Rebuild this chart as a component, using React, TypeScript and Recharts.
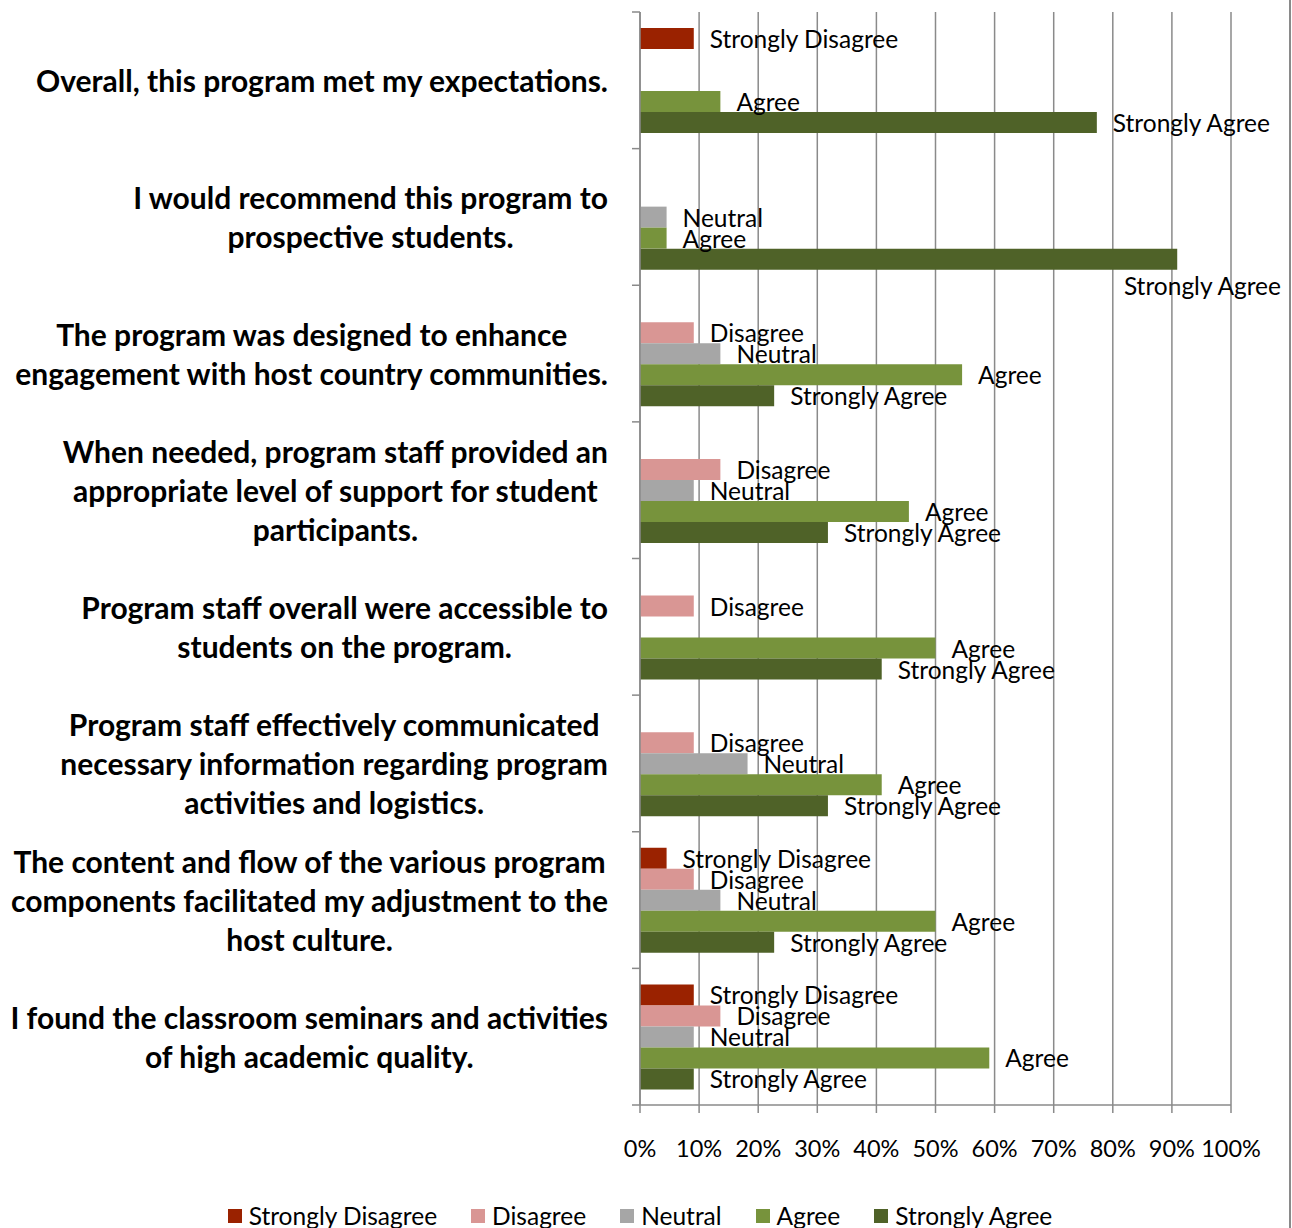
import React from 'react';
import { BarChart, Bar, XAxis, YAxis, CartesianGrid, LabelList, Legend } from 'recharts';

const categories: string[][] = [
  ['Overall, this program met my expectations.'],
  ['I would recommend this program to', 'prospective students.'],
  ['The program was designed to enhance', 'engagement with host country communities.'],
  ['When needed, program staff provided an', 'appropriate level of support for student', 'participants.'],
  ['Program staff overall were accessible to', 'students on the program.'],
  ['Program staff effectively communicated', 'necessary information regarding program', 'activities and logistics.'],
  ['The content and flow of the various program', 'components facilitated my adjustment to the', 'host culture.'],
  ['I found the classroom seminars and activities', 'of high academic quality.'],
];

const seriesNames = ['Strongly Disagree', 'Disagree', 'Neutral', 'Agree', 'Strongly Agree'];
const seriesKeys = ['sd', 'd', 'n', 'a', 'sa'];
const seriesColors = ['#9A2200', '#D99694', '#A6A6A6', '#77933C', '#4F6228'];

const stronglyDisagree = [9.1, 0, 0, 0, 0, 0, 4.5, 9.1];
const disagree = [0, 0, 9.1, 13.6, 9.1, 9.1, 9.1, 13.6];
const neutral = [0, 4.5, 13.6, 9.1, 0, 18.2, 13.6, 9.1];
const agree = [13.6, 4.5, 54.5, 45.5, 50.0, 40.9, 50.0, 59.1];
const stronglyAgree = [77.3, 90.9, 22.7, 31.8, 40.9, 31.8, 22.7, 9.1];

const xTicks = [0, 10, 20, 30, 40, 50, 60, 70, 80, 90, 100];

const data = categories.map((lines, i) => ({
  q: lines.join(' '),
  sd: stronglyDisagree[i],
  d: disagree[i],
  n: neutral[i],
  a: agree[i],
  sa: stronglyAgree[i],
}));

const FONT = 'Lato, "Open Sans", sans-serif';
const GRID = '#8a8a8a';
const W = 1292;
const H = 1228;
const MARGIN = { top: 12, right: 61, left: 0, bottom: 0 };
const Y_AXIS_W = 640;
const X_AXIS_H = 123;
const BAND = (H - MARGIN.top - MARGIN.bottom - X_AXIS_H) / categories.length;
const LABEL_FS = 24.5;
const TICK_FS = 23.5;
const CAT_FS = 30;

const CategoryTick = (props: any) => {
  const { y, payload, index } = props;
  const half = payload && typeof payload.offset === 'number' && payload.offset > 0 ? payload.offset : BAND / 2;
  const axisX = MARGIN.left + Y_AXIS_W;
  const lines = categories[index] || [String(payload?.value ?? '')];
  const isLast = index === categories.length - 1;
  return (
    <g>
      <line x1={axisX - 8} x2={axisX} y1={y - half} y2={y - half} stroke={GRID} strokeWidth={1.5} />
      {isLast && <line x1={axisX - 8} x2={axisX} y1={y + half} y2={y + half} stroke={GRID} strokeWidth={1.5} />}
      <foreignObject x={0} y={y - half} width={axisX - 32} height={half * 2}>
        <div
          style={{
            display: 'flex',
            alignItems: 'center',
            justifyContent: 'flex-end',
            height: '100%',
            width: '100%',
          }}
        >
          <div
            style={{
              textAlign: 'center',
              fontFamily: FONT,
              fontWeight: 700,
              fontSize: CAT_FS,
              lineHeight: '39px',
              color: '#000',
              whiteSpace: 'nowrap',
            }}
          >
            {lines.map((l, i) => (
              <div key={i}>{l}</div>
            ))}
          </div>
        </div>
      </foreignObject>
    </g>
  );
};

const makeLabel = (name: string) => (props: any) => {
  const { x, y, width, height, value } = props;
  if (!value) return null;
  const end = Number(x) + Number(width);
  const cy = Number(y) + Number(height) / 2;
  let tx = end + 16;
  let ty = cy + 0;
  let anchor: 'start' | 'end' = 'start';
  if (tx + name.length * 11.5 > W - 4) {
    tx = W - 11;
    ty = cy + 26;
    anchor = 'end';
  }
  return (
    <text
      x={tx}
      y={ty}
      textAnchor={anchor}
      dominantBaseline="central"
      fontSize={LABEL_FS}
      fontFamily={FONT}
      fill="#000"
    >
      {name}
    </text>
  );
};

const LegendContent = () => (
  <div
    style={{
      display: 'flex',
      justifyContent: 'center',
      alignItems: 'center',
      gap: 34,
      fontFamily: FONT,
      fontSize: LABEL_FS,
      lineHeight: '26px',
      color: '#000',
    }}
  >
    {seriesNames.map((n, i) => (
      <div key={n} style={{ display: 'flex', alignItems: 'center' }}>
        <span style={{ display: 'inline-block', width: 14, height: 14, background: seriesColors[i], marginRight: 7 }} />
        <span>{n}</span>
      </div>
    ))}
  </div>
);

export default function App() {
  return (
    <div style={{ position: 'absolute', left: 0, top: 0, width: W, height: H, overflow: 'hidden', background: '#fff' }}>
      <div style={{ position: 'absolute', left: 1289, top: 0, width: 2, height: H, background: GRID }} />
      <BarChart
        width={W}
        height={H}
        data={data}
        layout="vertical"
        margin={MARGIN}
        barGap={0}
        barSize={21}
        style={{ fontFamily: FONT }}
      >
        <CartesianGrid horizontal={false} stroke={GRID} strokeWidth={1.5} />
        <XAxis
          type="number"
          domain={[0, 100]}
          ticks={xTicks}
          interval={0}
          height={X_AXIS_H}
          tickFormatter={(v: number) => `${v}%`}
          tick={{ fontSize: TICK_FS, fill: '#000', fontFamily: FONT }}
          tickSize={8}
          tickMargin={27}
          axisLine={{ stroke: GRID, strokeWidth: 1.5 }}
          tickLine={{ stroke: GRID, strokeWidth: 1.5 }}
        />
        <YAxis
          type="category"
          dataKey="q"
          width={Y_AXIS_W}
          interval={0}
          tick={<CategoryTick />}
          tickLine={false}
          axisLine={{ stroke: GRID, strokeWidth: 1.5 }}
        />
        <Legend
          layout="horizontal"
          verticalAlign="middle"
          align="center"
          wrapperStyle={{ top: 1203, left: 0, width: 1280 }}
          content={<LegendContent />}
        />
        {seriesKeys.map((k, i) => (
          <Bar key={k} dataKey={k} name={seriesNames[i]} fill={seriesColors[i]} isAnimationActive={false}>
            <LabelList dataKey={k} content={makeLabel(seriesNames[i])} />
          </Bar>
        ))}
      </BarChart>
    </div>
  );
}
